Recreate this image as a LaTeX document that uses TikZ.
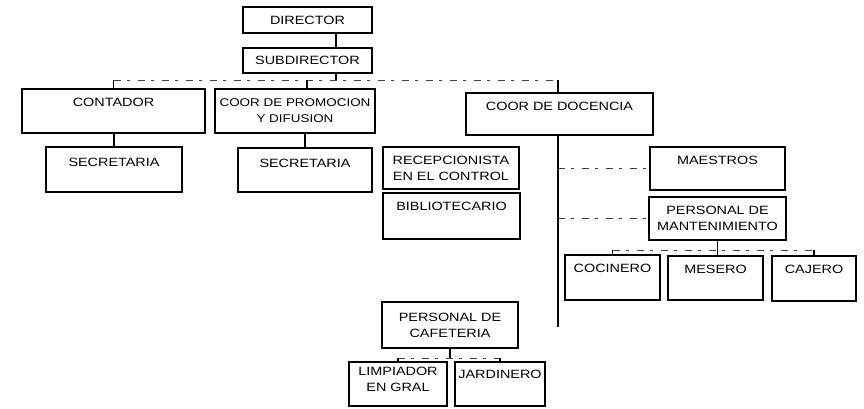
\documentclass[tikz,border=0pt]{standalone}
\usepackage{fontspec}
\newfontfamily\handfont[FakeStretch=1.2]{Liberation Sans}
\begin{document}
\begin{tikzpicture}[x=1pt,y=-1pt,
  box/.style={draw=black, line width=1.7pt, rectangle, inner xsep=1pt, inner ysep=0pt,
    font=\handfont\fontsize{12}{16}\selectfont, align=center},
  hi/.style={text height=9pt, text depth=#1},
  link/.style={draw=black, line width=1.1pt},
  faded/.style={draw=black!75, line width=1pt, dash pattern=on 7pt off 6pt on 3pt off 8pt}]
\useasboundingbox (0,0) rectangle (864,408);

\node[box, minimum width=129pt, minimum height=26pt] (dir) at (307.5,20) {DIRECTOR};
\node[box, minimum width=129pt, minimum height=25pt] (sub) at (307.5,60.5) {SUBDIRECTOR};
\node[box, minimum width=183pt, minimum height=44pt, hi=17.6pt] (cont) at (113.5,111) {CONTADOR};
\node[box, minimum width=160pt, minimum height=44pt, font=\handfont\fontsize{11.2}{16}\selectfont] (prom) at (295,111) {COOR DE PROMOCION\\Y DIFUSION};
\node[box, minimum width=187pt, minimum height=42pt, hi=15.6pt] (doc) at (559.5,114) {COOR DE DOCENCIA};
\node[box, minimum width=136pt, minimum height=45pt, hi=16pt] (secL) at (114,169.5) {SECRETARIA};
\node[box, minimum width=134pt, minimum height=44pt, hi=15pt] (secM) at (305,170) {SECRETARIA};
\node[box, minimum width=136pt, minimum height=42pt] (rec) at (451,168) {RECEPCIONISTA\\EN EL CONTROL};
\node[box, minimum width=137pt, minimum height=46pt, hi=20.6pt] (bib) at (451.5,216) {BIBLIOTECARIO};
\node[box, minimum width=135pt, minimum height=43pt, hi=16.6pt] (mae) at (717.5,168.5) {MAESTROS};
\node[box, minimum width=137pt, minimum height=43pt] (pm) at (717.5,218.5) {PERSONAL DE\\MANTENIMIENTO};
\node[box, minimum width=95pt, minimum height=45pt, hi=18.6pt] (coc) at (612.5,277.5) {COCINERO};
\node[box, minimum width=95pt, minimum height=44pt, hi=17.6pt] (mes) at (715.5,278) {MESERO};
\node[box, minimum width=84pt, minimum height=45pt, hi=18.6pt] (caj) at (814,278.5) {CAJERO};
\node[box, minimum width=136pt, minimum height=46pt] (cafe) at (450,325) {PERSONAL DE\\CAFETERIA};
\node[box, minimum width=98pt, minimum height=44pt, text depth=10pt] (limp) at (398,384) {LIMPIADOR\\EN GRAL};
\node[box, minimum width=90pt, minimum height=44pt, hi=20pt] (jard) at (500,384) {JARDINERO};

% junctions
\coordinate (j1) at (336,80);
\coordinate (b1) at (113.5,80);
\coordinate (b3) at (558,80);
\coordinate (bp) at (307,80);
\coordinate (dend) at (558,327);
\coordinate (m1) at (612.5,250);
\coordinate (m3) at (814,250);
\coordinate (c1) at (398,358);
\coordinate (c3) at (500,358);

\draw[link] (dir.south -| j1) -- (sub.north -| j1);
\draw[link] (sub.south -| j1) -- (j1);
\draw[faded] (b1) -- (b3);
\draw[link] (b1) -- (cont.north -| b1);
\draw[link] (bp) -- (prom.north -| bp);
\draw[link] (b3) -- (doc.north -| b3);

\draw[link] (cont.south -| secL.north) -- (secL.north);
\draw[link] (prom.south -| secM.north) -- (secM.north);

\draw[link] (doc.south -| dend) -- (dend);
\draw[faded] (mae.west -| dend) -- (mae.west);
\draw[faded] (pm.west -| dend) -- (pm.west);

\draw[link] (pm.south) -- (pm.south |- mes.north);
\draw[faded] (m1) -- (m3);
\draw[link] (m1) -- (coc.north);
\draw[link] (m3) -- (caj.north);

\draw[link] (cafe.south) -- (cafe.south |- c1);
\draw[faded] (c1) -- (c3);
\draw[link] (c1) -- (limp.north);
\draw[link] (c3) -- (jard.north);
\end{tikzpicture}
\end{document}
